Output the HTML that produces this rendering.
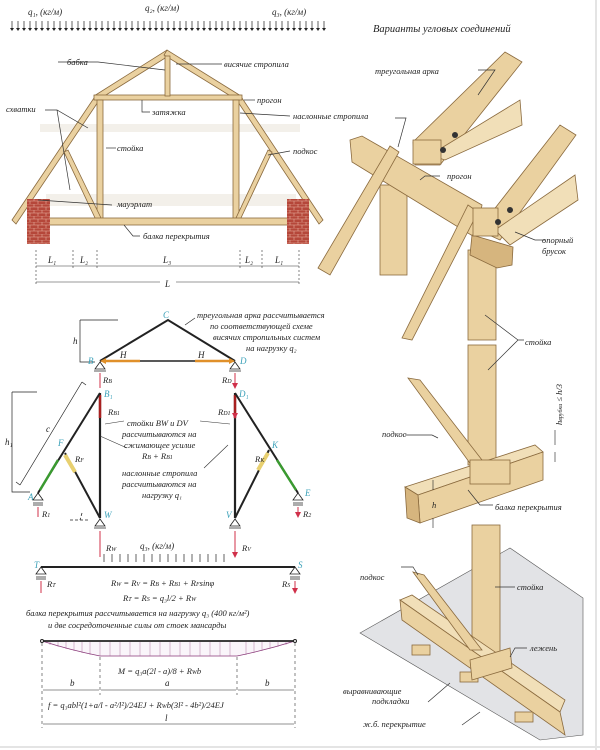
<!DOCTYPE html>
<html><head><meta charset="utf-8"><style>
html,body{margin:0;padding:0;background:#fff}
svg{display:block}
text{font-family:"Liberation Serif",serif;font-style:italic;fill:#222}
.w{fill:#ead1a0;stroke:#8a6a3e;stroke-width:0.8}
.wd{fill:#d6b57e;stroke:#8a6a3e;stroke-width:0.8}
.wl{fill:#f1dfb8;stroke:#8a6a3e;stroke-width:0.8}
.ld{stroke:#333;stroke-width:0.7;fill:none}
.t{font-size:9px}
.s{font-size:8.5px}
.bl{fill:#3aa0b8;font-size:9px}
</style></head><body>
<svg width="600" height="750" viewBox="0 0 600 750" xmlns="http://www.w3.org/2000/svg">
<defs>
<marker id="ap" markerWidth="6" markerHeight="6" refX="5" refY="3" orient="auto" markerUnits="userSpaceOnUse"><path d="M0,0 L6,3 L0,6z" fill="#d0304a"/></marker>
<pattern id="br" width="8" height="6" patternUnits="userSpaceOnUse"><rect width="8" height="6" fill="#b5473a"/><path d="M0,0H8M0,3H8M2,0V3M6,3V6" stroke="#e8b0a0" stroke-width="0.6"/></pattern>
</defs>
<rect x="0" y="0" width="600" height="750" fill="#fff"/>
<line x1="596" y1="0" x2="596" y2="750" stroke="#e4e4e4" stroke-width="2"/>
<line x1="0" y1="747" x2="600" y2="747" stroke="#e4e4e4" stroke-width="2"/>

<!-- loads -->
<text x="28" y="15" class="t">q₁, (кг/м)</text>
<text x="145" y="11" class="t">q₂, (кг/м)</text>
<text x="272" y="15" class="t">q₃, (кг/м)</text>
<g stroke="#222" stroke-width="0.7">
<path d="M12,21V29M18,21V29M24,21V29M30,21V29M36,21V29M42,21V29M48,21V29M54,21V29M60,21V29M66,21V29M72,21V29M78,21V29M84,21V29M90,21V29M96,21V29M102,21V29M108,21V29M114,21V29M120,21V29M126,21V29M132,21V29M138,21V29M144,21V29M150,21V29M156,21V29M162,21V29M168,21V29M174,21V29M180,21V29M186,21V29M192,21V29M198,21V29M204,21V29M210,21V29M216,21V29M222,21V29M228,21V29M234,21V29M240,21V29M246,21V29M252,21V29M258,21V29M264,21V29M270,21V29M276,21V29M282,21V29M288,21V29M294,21V29M300,21V29M306,21V29M312,21V29M318,21V29M324,21V29"/>
</g>
<g fill="#222"><path d="M10,28h4l-2,3zM16,28h4l-2,3zM22,28h4l-2,3zM28,28h4l-2,3zM34,28h4l-2,3zM40,28h4l-2,3zM46,28h4l-2,3zM52,28h4l-2,3zM58,28h4l-2,3zM64,28h4l-2,3zM70,28h4l-2,3zM76,28h4l-2,3zM82,28h4l-2,3zM88,28h4l-2,3zM94,28h4l-2,3zM100,28h4l-2,3zM106,28h4l-2,3zM112,28h4l-2,3zM118,28h4l-2,3zM124,28h4l-2,3zM130,28h4l-2,3zM136,28h4l-2,3zM142,28h4l-2,3zM148,28h4l-2,3zM154,28h4l-2,3zM160,28h4l-2,3zM166,28h4l-2,3zM172,28h4l-2,3zM178,28h4l-2,3zM184,28h4l-2,3zM190,28h4l-2,3zM196,28h4l-2,3zM202,28h4l-2,3zM208,28h4l-2,3zM214,28h4l-2,3zM220,28h4l-2,3zM226,28h4l-2,3zM232,28h4l-2,3zM238,28h4l-2,3zM244,28h4l-2,3zM250,28h4l-2,3zM256,28h4l-2,3zM262,28h4l-2,3zM268,28h4l-2,3zM274,28h4l-2,3zM280,28h4l-2,3zM286,28h4l-2,3zM292,28h4l-2,3zM298,28h4l-2,3zM304,28h4l-2,3zM310,28h4l-2,3zM316,28h4l-2,3zM322,28h4l-2,3z"/></g>

<!-- house -->
<rect x="46" y="194" width="250" height="12" fill="#f3f0ea"/>
<rect x="40" y="124" width="260" height="8" fill="#f3f0ea"/>
<polygon class="w" points="12,220 16,224 100,99 96,95"/>
<polygon class="w" points="323,220 319,224 236,99 240,95"/>
<polygon class="w" points="94,96 167,50 170,55 98,100"/>
<polygon class="w" points="241,96 167,50 164,55 237,100"/>
<rect class="w" x="94" y="95" width="148" height="5"/>
<rect class="w" x="165" y="56" width="5" height="40"/>
<rect class="w" x="97" y="100" width="6" height="120"/>
<rect class="w" x="233" y="100" width="6" height="120"/>
<polygon class="w" points="64,152 68,150 101,218 96,220"/>
<polygon class="w" points="268,150 272,152 240,220 236,218"/>
<rect class="w" x="46" y="218" width="244" height="7"/>
<rect x="27" y="199" width="23" height="45" fill="url(#br)"/>
<rect x="287" y="199" width="22" height="45" fill="url(#br)"/>
<g class="ld">
<path d="M58,62H98L165,70"/><path d="M176,64H222"/><path d="M244,100H255"/><path d="M142,100V112H150"/>
<path d="M240,113L290,116"/><path d="M45,110H57L88,128M57,110L70,190"/><path d="M106,148H116"/><path d="M268,155L290,151"/>
<path d="M38,200L112,205"/><path d="M124,225L133,236H140"/>
</g>
<text x="67" y="65" class="s">бабка</text>
<text x="224" y="67" class="s">висячие стропила</text>
<text x="257" y="103" class="s">прогон</text>
<text x="152" y="115" class="s">затяжка</text>
<text x="293" y="119" class="s">наслонные стропила</text>
<text x="6" y="112" class="s">схватки</text>
<text x="117" y="151" class="s">стойка</text>
<text x="293" y="154" class="s">подкос</text>
<text x="117" y="207" class="s">мауэрлат</text>
<text x="143" y="239" class="s">балка перекрытия</text>
<!-- dims -->
<g stroke="#333" stroke-width="0.6" stroke-dasharray="2,2"><path d="M36,250V285M73,250V268M97,250V268M240,250V268M262,250V268M299,250V285"/></g>
<g stroke="#333" stroke-width="0.6"><path d="M36,266H299M36,282H160M176,282H299"/></g>
<text x="48" y="263" class="t">L₁</text><text x="80" y="263" class="t">L₂</text><text x="163" y="263" class="t">L₃</text><text x="245" y="263" class="t">L₂</text><text x="275" y="263" class="t">L₁</text><text x="165" y="287" class="t">L</text>

<!-- static diagram -->
<path d="M80,320H118M80,320V362H95" stroke="#222" stroke-width="0.7" fill="none"/>
<text x="73" y="344" class="t">h</text>
<path d="M100,361L168,320L235,361" stroke="#222" stroke-width="2" fill="none"/>
<line x1="100" y1="361" x2="235" y2="361" stroke="#222" stroke-width="1.5"/>
<path d="M104,361H140M231,361H195" stroke="#e0902a" stroke-width="2.5"/>
<path d="M100,361l6,-3v6z M235,361l-6,-3v6z" fill="#e0902a"/>
<text x="163" y="318" class="bl">C</text><text x="88" y="364" class="bl">B</text><text x="240" y="364" class="bl">D</text>
<text x="120" y="358" class="t">H</text><text x="198" y="358" class="t">H</text>
<path d="M185,325L195,318" stroke="#222" stroke-width="0.6"/>
<text x="197" y="318" class="s">треугольная арка рассчитывается</text>
<text x="210" y="329" class="s">по соответствующей схеме</text>
<text x="213" y="340" class="s">висячих стропильных систем</text>
<text x="246" y="351" class="s">на нагрузку q₂</text>
<g fill="none" stroke="#222" stroke-width="0.8"><path d="M100,362l-5,7h10z M235,362l-5,7h10z M94,371h12M229,371h12"/></g>
<path d="M100,373V388M235,373V388" stroke="#d0304a" stroke-width="1" marker-end="url(#ap)"/>
<text x="103" y="383" class="s">R<tspan font-size="6">B</tspan></text><text x="222" y="383" class="s">R<tspan font-size="6">D</tspan></text>
<text x="104" y="397" class="bl">B₁</text><text x="239" y="397" class="bl">D₁</text>
<path d="M100,393V518M235,393V518" stroke="#222" stroke-width="2.2"/>
<path d="M100,395V418M235,395V418" stroke="#a82020" stroke-width="2.5" marker-end="url(#ap)"/>
<text x="108" y="415" class="s">R<tspan font-size="6">B1</tspan></text><text x="218" y="415" class="s">R<tspan font-size="6">D1</tspan></text>
<path d="M100,393L38,493M235,393L298,493" stroke="#222" stroke-width="2"/>
<path d="M58,460L40,490M277,460L296,490" stroke="#3a9a30" stroke-width="2.5"/>
<path d="M65,453L100,518M269,450L235,518" stroke="#222" stroke-width="2"/>
<path d="M65,455L75,472M268,453L258,470" stroke="#e8d070" stroke-width="4"/>
<text x="58" y="446" class="bl">F</text><text x="272" y="448" class="bl">K</text>
<text x="75" y="462" class="s">R<tspan font-size="6">F</tspan></text><text x="255" y="462" class="s">R<tspan font-size="6">K</tspan></text>
<text x="28" y="500" class="bl">A</text><text x="305" y="496" class="bl">E</text>
<text x="104" y="518" class="bl">W</text><text x="226" y="518" class="bl">V</text>
<path d="M12,392H37M12,392V492H30" stroke="#222" stroke-width="0.7" fill="none"/>
<text x="5" y="445" class="t">h₁</text>
<path d="M20,485L82,382M20,485l-4,-3M82,382l4,3" stroke="#222" stroke-width="0.7" fill="none"/>
<text x="46" y="432" class="t">c</text>
<g fill="none" stroke="#222" stroke-width="0.8">
<path d="M38,493l-5,7h10z M33,503h10M33,505h10 M298,493l-5,7h10z M293,503h10M293,505h10 M100,519l-5,7h10z M235,519l-5,7h10z M94,528h12M229,528h12"/>
<path d="M70,520H90M82,513L80,520" stroke-dasharray="3,2"/>
</g>
<path d="M38,507V517M298,507V517" stroke="#d0304a" stroke-width="1" marker-end="url(#ap)"/>
<text x="42" y="517" class="s">R<tspan font-size="6">1</tspan></text><text x="303" y="517" class="s">R<tspan font-size="6">2</tspan></text>
<path d="M124,421L105,424M200,421L230,424M100,436L127,448M228,445L204,468" stroke="#333" stroke-width="0.6" fill="none"/>
<text x="127" y="426" class="s">стойки BW и DV</text>
<text x="122" y="437" class="s">рассчитываются на</text>
<text x="124" y="448" class="s">сжимающее усилие</text>
<text x="142" y="459" class="s">R<tspan font-size="6">B</tspan> + R<tspan font-size="6">B1</tspan></text>
<text x="122" y="476" class="s">наслонные стропила</text>
<text x="122" y="487" class="s">рассчитываются на</text>
<text x="142" y="498" class="s">нагрузку q₁</text>
<path d="M100,531V557M235,531V557" stroke="#d0304a" stroke-width="1" marker-end="url(#ap)"/>
<text x="106" y="551" class="s">R<tspan font-size="6">W</tspan></text><text x="242" y="551" class="s">R<tspan font-size="6">V</tspan></text>
<text x="140" y="549" class="t">q₃, (кг/м)</text>
<g stroke="#222" stroke-width="0.7"><path d="M104,554V562M112,554V562M120,554V562M128,554V562M136,554V562M144,554V562M152,554V562M160,554V562M168,554V562M176,554V562M184,554V562M192,554V562M200,554V562M208,554V562M216,554V562M224,554V562"/></g>
<line x1="41" y1="567" x2="295" y2="567" stroke="#222" stroke-width="2"/>
<g fill="none" stroke="#222" stroke-width="0.8"><path d="M41,567l-5,7h10z M36,577h10M36,579h10 M295,567l-5,7h10z M290,577h10M290,579h10"/></g>
<text x="34" y="568" class="bl">T</text><text x="298" y="568" class="bl">S</text>
<path d="M41,581V593M295,581V593" stroke="#d0304a" stroke-width="1" marker-end="url(#ap)"/>
<text x="47" y="587" class="s">R<tspan font-size="6">T</tspan></text><text x="282" y="587" class="s">R<tspan font-size="6">S</tspan></text>
<text x="111" y="586" class="s">R<tspan font-size="6">W</tspan> = R<tspan font-size="6">V</tspan> = R<tspan font-size="6">B</tspan> + R<tspan font-size="6">B1</tspan> + R<tspan font-size="6">F</tspan>sinφ</text>
<text x="123" y="601" class="s">R<tspan font-size="6">T</tspan> = R<tspan font-size="6">S</tspan> = q₃l/2 + R<tspan font-size="6">W</tspan></text>
<text x="26" y="616" class="s">балка перекрытия рассчитывается на нагрузку q₃ (400 кг/м²)</text>
<text x="48" y="628" class="s">и две сосредоточенные силы от стоек мансарды</text>
<path d="M42,641Q70,650 100,656H237Q266,650 295,641Z" fill="#faf5fa" stroke="#8a3a7a" stroke-width="0.7"/>
<g stroke="#a05a90" stroke-width="0.4"><path d="M50,642V645M58,642V647M66,642V649M74,642V651M82,642V653M90,642V655M100,642V656M110,642V656M120,642V656M130,642V656M140,642V656M150,642V656M160,642V656M170,642V656M180,642V656M190,642V656M200,642V656M210,642V656M220,642V656M230,642V656M246,642V655M254,642V653M262,642V651M270,642V649M278,642V647M286,642V645"/></g>
<line x1="42" y1="641" x2="295" y2="641" stroke="#222" stroke-width="1.8"/>
<circle cx="42" cy="641" r="1.5" fill="#fff" stroke="#222"/><circle cx="295" cy="641" r="1.5" fill="#fff" stroke="#222"/>
<g stroke="#333" stroke-width="0.6" stroke-dasharray="3,3"><path d="M42,643V728M100,657V695M237,657V695M295,643V728"/></g>
<text x="118" y="674" class="s">M = q₃a(2l - a)/8 + R<tspan font-size="6">W</tspan>b</text>
<path d="M43,690H99M101,690H236M238,690H294M43,724H294" stroke="#222" stroke-width="0.6"/>
<text x="70" y="686" class="t">b</text><text x="165" y="686" class="t">a</text><text x="265" y="686" class="t">b</text>
<text x="48" y="708" class="s">f = q₃abl²(1+a/l - a²/l²)/24EJ + R<tspan font-size="6">W</tspan>b(3l² - 4b²)/24EJ</text>
<text x="165" y="721" class="t">l</text>

<!-- right side -->
<text x="373" y="32" font-size="10.5px">Варианты угловых соединений</text>
<rect class="w" x="380" y="185" width="27" height="90"/>
<polygon class="w" points="350,140 362,136 482,205 476,238 352,162"/>
<polygon class="w" points="318,268 330,275 399,152 390,146"/>
<polygon class="w" points="413,142 505,52 522,62 440,165 415,165"/>
<polygon class="wl" points="430,155 520,100 522,125 445,160"/>
<rect class="w" x="413" y="140" width="28" height="24"/>
<circle cx="455" cy="135" r="3" fill="#333"/><circle cx="443" cy="150" r="3" fill="#333"/>
<rect class="w" x="468" y="250" width="28" height="90"/>
<polygon class="wd" points="472,235 513,247 512,265 497,268 470,255"/>
<polygon class="w" points="468,205 478,212 412,340 402,338"/>
<polygon class="w" points="478,230 560,125 576,135 500,240"/>
<polygon class="wl" points="495,230 575,175 578,200 510,245"/>
<rect class="w" x="473" y="208" width="25" height="28"/>
<circle cx="510" cy="210" r="3" fill="#333"/><circle cx="498" cy="222" r="3" fill="#333"/>
<rect class="w" x="468" y="345" width="28" height="120"/>
<polygon class="w" points="408,378 420,380 482,460 472,466"/>
<polygon class="wl" points="405,487 535,445 543,452 418,495"/>
<polygon class="w" points="418,495 543,452 543,480 420,523"/>
<polygon class="wd" points="405,487 418,495 420,523 407,518"/>
<rect class="w" x="470" y="460" width="40" height="24"/>
<polygon points="360,633 510,548 583,598 583,735 540,740" fill="#e2e3e6" stroke="#555" stroke-width="0.6"/>
<rect class="w" x="412" y="645" width="18" height="10"/><rect class="w" x="460" y="672" width="18" height="10"/><rect class="w" x="515" y="712" width="18" height="10"/>
<rect class="w" x="472" y="525" width="28" height="135"/>
<polygon class="wl" points="400,600 412,595 565,700 560,712"/>
<polygon class="w" points="400,600 560,712 565,735 402,620"/>
<polygon class="w" points="413,572 424,575 482,650 470,650"/>
<polygon class="w" points="470,660 510,648 512,668 472,680"/>
<g class="ld">
<path d="M478,70H495L478,95"/><path d="M395,118H406L398,147"/><path d="M440,176H425L420,180"/>
<path d="M515,232L535,240H545"/>
<path d="M485,315L518,340L488,370M518,340H524"/><path d="M405,435H432L438,438"/>
<path d="M468,490L480,505H493"/>
<path d="M401,567H413L418,575"/><path d="M495,587H515"/><path d="M510,657L515,648H527"/>
<path d="M428,702L450,683"/><path d="M462,725L480,712"/>
</g>
<text x="375" y="74" class="s">треугольная арка</text>
<text x="447" y="179" class="s">прогон</text>
<text x="542" y="243" class="s">опорный</text><text x="542" y="254" class="s">брусок</text>
<text x="525" y="345" class="s">стойка</text>
<text x="382" y="437" class="s">подкос</text>
<text x="495" y="510" class="s">балка перекрытия</text>
<text x="432" y="508" class="s">h</text>
<path d="M433,480V490M433,518V528" stroke="#222" stroke-width="0.6"/>
<path d="M555,445V430M555,452V462" stroke="#222" stroke-width="0.6"/>
<text transform="translate(562,425) rotate(-90)" class="s">h<tspan font-size="6">врубки</tspan> ≤ h/3</text>
<text x="360" y="580" class="s">подкос</text>
<text x="517" y="590" class="s">стойка</text>
<text x="530" y="651" class="s">лежень</text>
<text x="343" y="694" class="s">выравнивающие</text>
<text x="372" y="704" class="s">подкладки</text>
<text x="363" y="727" class="s">ж.б. перекрытие</text>
</svg>
</body></html>
